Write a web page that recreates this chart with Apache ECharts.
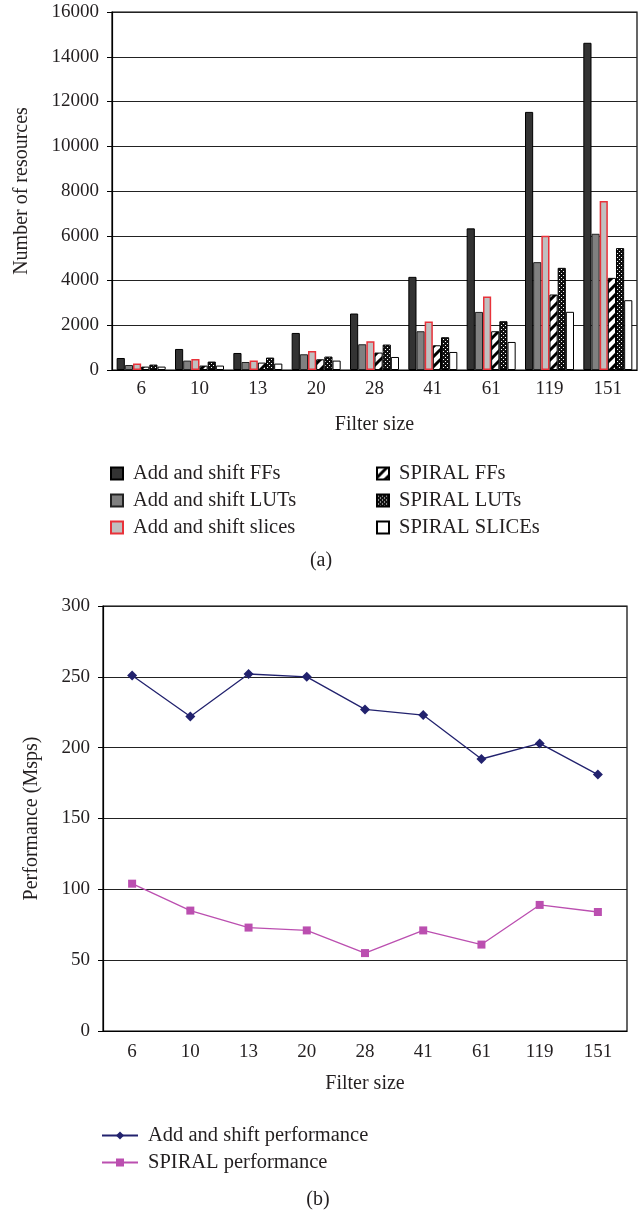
<!DOCTYPE html>
<html>
<head>
<meta charset="utf-8">
<script src="https://cdn.jsdelivr.net/npm/echarts@6/dist/echarts.min.js"></script>
<style>
html,body{margin:0;padding:0;background:#fff;}
#chart{width:642px;height:1212px;}
</style>
</head>
<body>
<div id="chart"></div>
<script>
const categories = ['6','10','13','20','28','41','61','119','151'];
const addShiftFFs    = [537, 940, 761, 1656, 2524, 4163, 6330, 11535, 14624];
const addShiftLUTs   = [224, 420, 358, 703, 1150, 1732, 2596, 4820, 6088];
const addShiftSlices = [286, 492, 420, 850, 1285, 2166, 3285, 5998, 7552];
const spiralFFs      = [152, 197, 331, 479, 779, 1105, 1732, 3375, 4118];
const spiralLUTs     = [242, 376, 555, 600, 1137, 1464, 2180, 4566, 5448];
const spiralSlices   = [152, 197, 286, 420, 582, 806, 1253, 2600, 3120];
const addShiftPerf   = [251, 222, 252, 250, 227, 223, 192, 203, 181];
const spiralPerf     = [104, 85, 73, 71, 55, 71, 61, 89, 84];
const resTicks = {min:0, max:16000, interval:2000};
const perfTicks = {min:0, max:300, interval:50};

const FONT = 'Liberation Serif';
const TXT = '#231f20';

function hatchPattern(){
  const s = 10;
  const c = document.createElement('canvas'); c.width = s; c.height = s;
  const g = c.getContext('2d');
  g.fillStyle = '#fff'; g.fillRect(0,0,s,s);
  g.strokeStyle = '#000'; g.lineWidth = 3;
  g.beginPath();
  g.moveTo(-2, s+2); g.lineTo(s+2, -2);
  g.moveTo(-2, 2); g.lineTo(2, -2);
  g.moveTo(s-2, s+2); g.lineTo(s+2, s-2);
  g.stroke();
  return c;
}
function dotPattern(){
  const s = 4;
  const c = document.createElement('canvas'); c.width = s; c.height = s;
  const g = c.getContext('2d');
  g.fillStyle = '#111'; g.fillRect(0,0,s,s);
  g.fillStyle = '#fff';
  g.fillRect(1,1,1,1);
  g.fillRect(3,3,1,1);
  return c;
}

const chart = echarts.init(document.getElementById('chart'), null, {renderer:'canvas'});

function barSeries(name, data, itemStyle){
  return {
    name, type:'bar', xAxisIndex:0, yAxisIndex:0, data,
    barGap:'0%', barCategoryGap:'16%',
    itemStyle, emphasis:{disabled:true}, animation:false
  };
}
const plain = v => String(v);

const option = {
  animation:false,
  grid:[
    {left:112, top:12, width:525, height:358, show:true, borderColor:'#000', borderWidth:1.2, containLabel:false},
    {left:103, top:606, width:524, height:425, show:true, borderColor:'#000', borderWidth:1.2, containLabel:false}
  ],
  xAxis:[
    {type:'category', gridIndex:0, data:categories,
     axisLine:{lineStyle:{color:'#000', width:1.2}},
     axisTick:{length:5, lineStyle:{color:'#000'}},
     axisLabel:{fontFamily:FONT, fontSize:19, color:TXT, margin:10},
     name:'Filter size', nameLocation:'middle', nameGap:45,
     nameTextStyle:{fontFamily:FONT, fontSize:20, color:TXT}},
    {type:'category', gridIndex:1, data:categories, boundaryGap:true,
     axisLine:{lineStyle:{color:'#000', width:1.2}},
     axisTick:{length:5, lineStyle:{color:'#000'}},
     axisLabel:{fontFamily:FONT, fontSize:19, color:TXT, margin:12},
     name:'Filter size', nameLocation:'middle', nameGap:43,
     nameTextStyle:{fontFamily:FONT, fontSize:20, color:TXT}}
  ],
  yAxis:[
    {type:'value', gridIndex:0, min:resTicks.min, max:resTicks.max, interval:resTicks.interval,
     axisLine:{show:true, lineStyle:{color:'#000', width:1.2}},
     axisTick:{show:true, length:5, lineStyle:{color:'#000'}},
     axisLabel:{fontFamily:FONT, fontSize:19, color:TXT, margin:13, formatter:plain},
     splitLine:{lineStyle:{color:'#222', width:1.2}},
     name:'Number of resources', nameLocation:'middle', nameGap:80,
     nameTextStyle:{fontFamily:FONT, fontSize:20, color:TXT}},
    {type:'value', gridIndex:1, min:perfTicks.min, max:perfTicks.max, interval:perfTicks.interval,
     axisLine:{show:true, lineStyle:{color:'#000', width:1.2}},
     axisTick:{show:true, length:5, lineStyle:{color:'#000'}},
     axisLabel:{fontFamily:FONT, fontSize:19, color:TXT, margin:13, formatter:plain},
     splitLine:{lineStyle:{color:'#222', width:1.2}},
     name:'Performance (Msps)', nameLocation:'middle', nameGap:61,
     nameTextStyle:{fontFamily:FONT, fontSize:20, color:TXT}}
  ],
  legend:[
    {orient:'vertical', left:105, top:458, icon:'rect', itemWidth:12, itemHeight:12, itemGap:6,
     textStyle:{fontFamily:FONT, fontSize:20.5, color:TXT, padding:[0,0,0,5]},
     data:['Add and shift FFs','Add and shift LUTs','Add and shift slices']},
    {orient:'vertical', left:371, top:458, icon:'rect', itemWidth:12, itemHeight:12, itemGap:6,
     textStyle:{fontFamily:FONT, fontSize:20.5, color:TXT, padding:[0,0,0,5]},
     data:['SPIRAL FFs','SPIRAL LUTs','SPIRAL SLICEs']},
    {orient:'vertical', left:96, top:1120, itemWidth:36, itemHeight:10, itemGap:6,
     textStyle:{fontFamily:FONT, fontSize:20.5, color:TXT, padding:[0,0,0,5]},
     data:['Add and shift performance','SPIRAL performance']}
  ],
  graphic:[
    {type:'text', x:321, y:561, style:{text:'(a)', align:'center', verticalAlign:'middle', font:'20px "Liberation Serif"', fill:TXT}},
    {type:'text', x:318, y:1200, style:{text:'(b)', align:'center', verticalAlign:'middle', font:'20px "Liberation Serif"', fill:TXT}}
  ],
  series:[
    barSeries('Add and shift FFs', addShiftFFs, {color:'#333333', borderColor:'#000', borderWidth:1}),
    barSeries('Add and shift LUTs', addShiftLUTs, {color:'#808080', borderColor:'#222', borderWidth:1}),
    barSeries('Add and shift slices', addShiftSlices, {color:'#c0c0c0', borderColor:'#e8323a', borderWidth:1.5}),
    barSeries('SPIRAL FFs', spiralFFs, {color:{image:hatchPattern(), repeat:'repeat'}, borderColor:'#000', borderWidth:1}),
    barSeries('SPIRAL LUTs', spiralLUTs, {color:{image:dotPattern(), repeat:'repeat'}, borderColor:'#000', borderWidth:1}),
    barSeries('SPIRAL SLICEs', spiralSlices, {color:'#ffffff', borderColor:'#000', borderWidth:1}),
    {name:'Add and shift performance', type:'line', xAxisIndex:1, yAxisIndex:1, data:addShiftPerf,
     symbol:'diamond', symbolSize:10, showAllSymbol:true,
     lineStyle:{color:'#22226e', width:1.3}, itemStyle:{color:'#22226e'}, emphasis:{disabled:true}},
    {name:'SPIRAL performance', type:'line', xAxisIndex:1, yAxisIndex:1, data:spiralPerf,
     symbol:'rect', symbolSize:8, showAllSymbol:true,
     lineStyle:{color:'#bb4fb0', width:1.3}, itemStyle:{color:'#bb4fb0'}, emphasis:{disabled:true}}
  ]
};
chart.setOption(option);
</script>
</body>
</html>
